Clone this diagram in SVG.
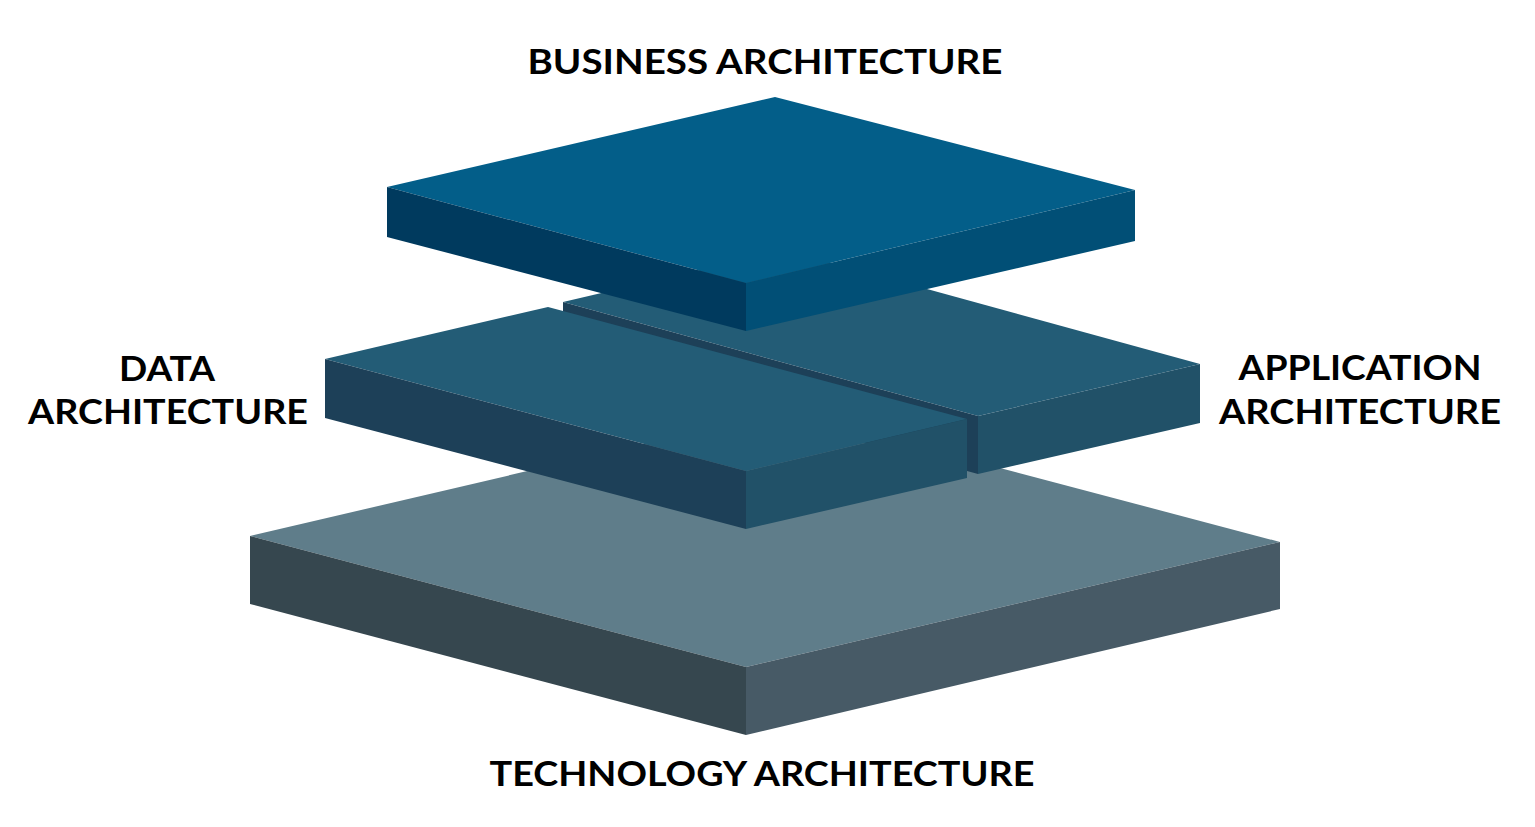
<svg xmlns="http://www.w3.org/2000/svg" width="1535" height="827" viewBox="0 0 1535 827">
<style>
.lbl{font-family:Lato,"Open Sans","Liberation Sans",sans-serif;font-weight:700;font-size:35px;fill:#000;text-anchor:middle}
</style>
<rect width="1535" height="827" fill="#fff"/>
<g id="technology">
<polygon points="250,536 784,411 1280,542 746,667" fill="#5f7d8a"/>
<polygon points="250,536 746,667 746,735 250,604" fill="#36474f"/>
<polygon points="746,667 1280,542 1280,609 746,735" fill="#475a66"/>
<text class="lbl" x="762" y="786" textLength="545" lengthAdjust="spacingAndGlyphs">TECHNOLOGY ARCHITECTURE</text>
</g>
<g id="application">
<polygon points="563,302 785,250 1200,364 978,416" fill="#235c76"/>
<polygon points="563,302 978,416 978,474 563,360" fill="#1d4058"/>
<polygon points="978,416 1200,364 1200,423 978,474" fill="#215168"/>
<text class="lbl"><tspan x="1360" y="380" textLength="243" lengthAdjust="spacingAndGlyphs">APPLICATION</tspan><tspan x="1360" y="424" textLength="282" lengthAdjust="spacingAndGlyphs">ARCHITECTURE</tspan></text>
</g>
<g id="data">
<polygon points="325,359 548,307 967,419 746,471" fill="#235c76"/>
<polygon points="325,359 746,471 746,529 325,418" fill="#1d4058"/>
<polygon points="746,471 967,419 967,478 746,529" fill="#215168"/>
<text class="lbl"><tspan x="167" y="381" textLength="96" lengthAdjust="spacingAndGlyphs">DATA</tspan><tspan x="168" y="424" textLength="280" lengthAdjust="spacingAndGlyphs">ARCHITECTURE</tspan></text>
</g>
<g id="business">
<polygon points="387,187 775,97 1135,190 746,283" fill="#035e89"/>
<polygon points="387,187 746,283 746,331 387,237" fill="#003a5e"/>
<polygon points="746,283 1135,190 1135,241 746,331" fill="#014f76"/>
<text class="lbl" x="765" y="74" textLength="475" lengthAdjust="spacingAndGlyphs">BUSINESS ARCHITECTURE</text>
</g>
<g id="connectors"></g>
</svg>
